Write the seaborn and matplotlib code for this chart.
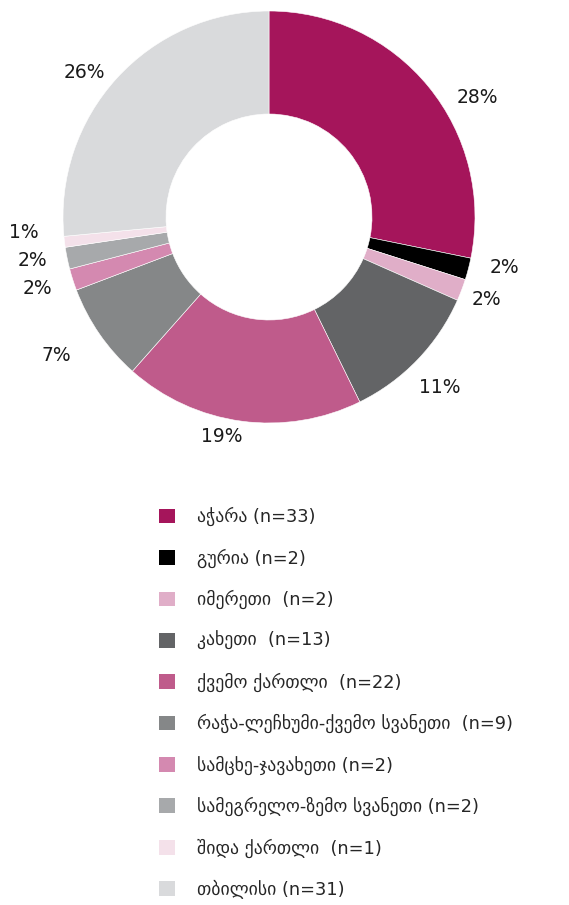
import matplotlib
matplotlib.use("Agg")
import matplotlib.pyplot as plt
from matplotlib.patches import Patch
import seaborn as sns

regions = ['აჭარა (n=33)', 'გურია (n=2)', 'იმერეთი  (n=2)', 'კახეთი  (n=13)',
           'ქვემო ქართლი  (n=22)', 'რაჭა-ლეჩხუმი-ქვემო სვანეთი  (n=9)',
           'სამცხე-ჯავახეთი (n=2)', 'სამეგრელო-ზემო სვანეთი (n=2)',
           'შიდა ქართლი  (n=1)', 'თბილისი (n=31)']
counts = [33, 2, 2, 13, 22, 9, 2, 2, 1, 31]
pct_labels = ['28%', '2%', '2%', '11%', '19%', '7%', '2%', '2%', '1%', '26%']
colors = ['#A5155B', '#000000', '#E0AEC8', '#636466', '#BF5B8B',
          '#858788', '#D489B0', '#A7A9AB', '#F4E1EA', '#D9DADC']

# small nudges (pixels, right / down) so labels sit where the original put them
label_nudge = [(22, 33), (2, -10), (-8, -3), (-3, 4), (-15, -19),
               (-14, 2), (-2, -2), (0, -5), (-6, -14), (-6, 18)]

sns.set_theme(style='white')
plt.rcParams['font.family'] = ['DejaVu Sans']

fig = plt.figure(figsize=(5.69, 9.05), dpi=100)
W, H = 569, 905
cx, cy, R = 269, 217, 206
ax = fig.add_axes([(cx - R) / W, (H - cy - R) / H, 2 * R / W, 2 * R / H])

wedges, texts = ax.pie(counts, labels=pct_labels, colors=colors,
                       startangle=90, counterclock=False,
                       labeldistance=1.17,
                       wedgeprops=dict(width=0.5, edgecolor='white', linewidth=0.4),
                       textprops=dict(fontsize=13.5, color='#1a1a1a'))
for t, (dx, dy) in zip(texts, label_nudge):
    x, y = t.get_position()
    t.set_position((x + dx / R, y - dy / R))
    t.set_ha('center')
ax.set_xlim(-1, 1)
ax.set_ylim(-1, 1)
ax.set_aspect('equal')
ax.axis('off')

handles = [Patch(facecolor=c, edgecolor='none') for c in colors]
fig.legend(handles, regions, loc='upper left',
           bbox_to_anchor=(152 / W, 1 - 500 / H),
           frameon=False, fontsize=12.8, handlelength=0.9, handleheight=0.9,
           handletextpad=1.24, labelspacing=1.245, borderaxespad=0)

fig.savefig('out.png', dpi=100)
